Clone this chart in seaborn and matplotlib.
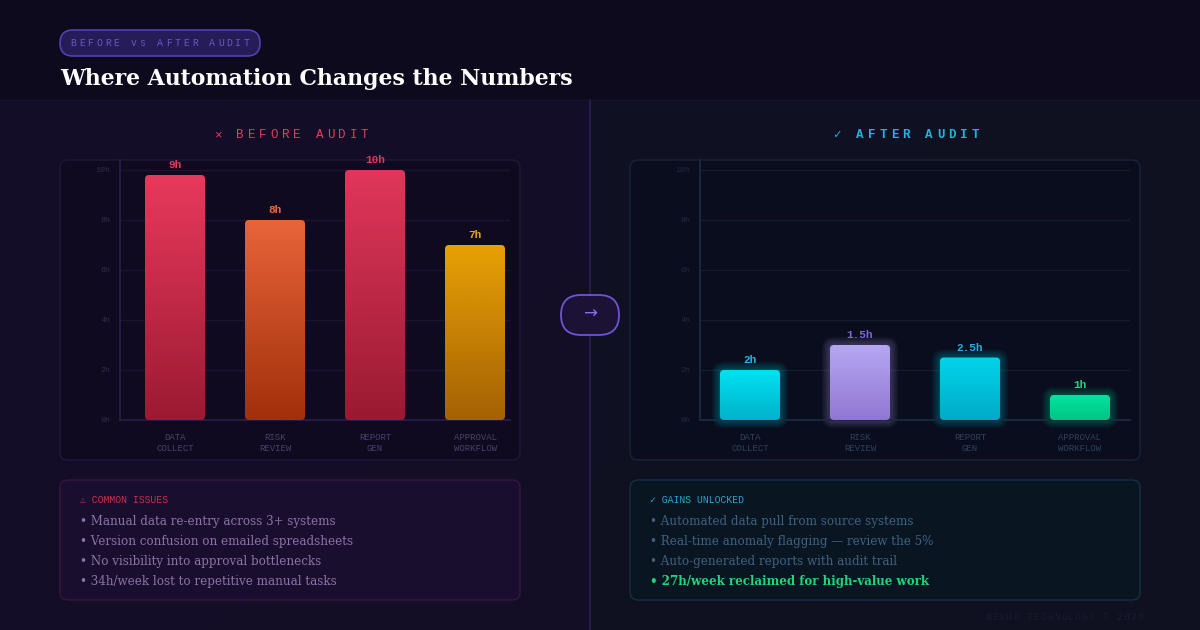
import numpy as np
import matplotlib
matplotlib.use('Agg')
import matplotlib.pyplot as plt
from matplotlib.patches import FancyBboxPatch
from matplotlib.colors import to_rgb
import seaborn as sns


### DATA ###
categories = ['DATA\nCOLLECT', 'RISK\nREVIEW', 'REPORT\nGEN', 'APPROVAL\nWORKFLOW']
before_hours = [9.8, 8, 10, 7]
before_labels = ['9h', '8h', '10h', '7h']
after_hours = [2, 3, 2.5, 1]
after_labels = ['2h', '1.5h', '2.5h', '1h']
y_ticks = [0, 2, 4, 6, 8, 10]
y_tick_labels = ['0h', '2h', '4h', '6h', '8h', '10h']

issues = ['Manual data re-entry across 3+ systems',
          'Version confusion on emailed spreadsheets',
          'No visibility into approval bottlenecks',
          '34h/week lost to repetitive manual tasks']
gains = ['Automated data pull from source systems',
         'Real-time anomaly flagging \u2014 review the 5%',
         'Auto-generated reports with audit trail',
         '27h/week reclaimed for high-value work']

before_top = ['#e8395b', '#e8643a', '#e0375a', '#e8a004']
before_bottom = ['#9c1a32', '#a2300a', '#9a1a32', '#a46204']
after_top = ['#00e2f2', '#b6a6f2', '#00d4ea', '#00e4a2']
after_bottom = ['#00b2ca', '#9078d2', '#00aac8', '#00c482']
before_label_colors = ['#e23a5c', '#e8693c', '#e23a5c', '#eaa010']
after_label_colors = ['#22b4e4', '#7a68e0', '#22aee4', '#22d486']

W, H = 1200, 630
MONO = ['Liberation Mono', 'DejaVu Sans Mono', 'DejaVu Sans']
SERIF = ['DejaVu Serif']

sns.set_theme(style='dark')
plt.rcParams['font.family'] = ['DejaVu Serif', 'DejaVu Sans']

fig = plt.figure(figsize=(12, 6.3), dpi=100)

# full-figure axes in pixel coords for the decoration
bg = fig.add_axes([0, 0, 1, 1], zorder=0)
bg.set_xlim(0, W)
bg.set_ylim(H, 0)
bg.axis('off')

# background: header band, purple left panel, bluish right panel
yy, xx = np.mgrid[0:H, 0:W]
img = np.zeros((H, W, 3))
left_c = np.array(to_rgb('#150d29'))
right_c = np.array(to_rgb('#0f1124'))
head_c = np.array(to_rgb('#0e0a1e'))
diag = ((xx + yy) / (W + H))[..., None]
img[:] = np.where((xx < 590)[..., None], left_c, right_c)
img = img * (1.0 - 0.18 * diag) + 0.012 * diag
img[yy < 100] = head_c
bg.imshow(img, extent=(0, W, H, 0), aspect='auto', zorder=0)
bg.plot([0, W], [100, 100], color='#171230', lw=1, zorder=1)
bg.plot([590, 590], [100, H], color='#251b48', lw=1.6, zorder=1)


def box(x, y, w, h, fc, ec, r=8, lw=1.0):
	bg.add_patch(FancyBboxPatch((x, y), w, h, boxstyle=f'round,pad=0,rounding_size={r}',
	                            fc=fc, ec=ec, lw=lw, zorder=2))


def spaced(cx, y, s, step, **kw):
	'''letter-spaced text centred on cx'''
	start = cx - (len(s) - 1) * step / 2
	for i, c in enumerate(s):
		bg.text(start + i * step, y, c, ha='center', va='center', zorder=5, **kw)


# header
box(60, 30, 200, 26, '#261c58', '#5440b0', r=13, lw=1.2)
spaced(160, 43.5, 'BEFORE vs AFTER AUDIT', 8.7, color='#6a58c0', fontsize=7, family=MONO)
bg.text(60, 85, 'Where Automation Changes the Numbers', color='white', fontsize=15.8,
        weight='bold', family=SERIF, va='baseline', zorder=5)

# panel titles
spaced(291, 135, '\u00d7 BEFORE AUDIT', 11.3, color='#e0405c', fontsize=9, family=MONO)
spaced(906, 135, '\u2713 AFTER AUDIT', 11.5, color='#22b2dc', fontsize=9, family=MONO, weight='bold')

# chart frames
box(60, 160, 460, 300, '#100a20', '#22173b')
box(630, 160, 510, 300, '#0a0d1d', '#16253a')

# arrow pill
box(561, 295, 58, 40, '#1b1236', '#6f55d6', r=20, lw=1.3)
bg.text(590, 314, '\u2192', color='#8a6cf0', fontsize=12, ha='center', va='center',
        family=['DejaVu Sans'], zorder=5)

# bottom note boxes
box(60, 480, 460, 120, '#1a0e2e', '#3a1742')
box(630, 480, 510, 120, '#0a1522', '#153044')
bg.text(80, 500, '\u26a0 COMMON ISSUES', color='#c8304e', fontsize=7, family=MONO, va='center', zorder=5)
bg.text(650, 500, '\u2713 GAINS UNLOCKED', color='#22a8cc', fontsize=7, family=MONO, va='center', zorder=5)
for i, t in enumerate(issues):
	bg.text(80, 521 + i * 20, '\u2022 ' + t, color='#8a72a8', fontsize=8.6, family=SERIF,
	        va='center', zorder=5)
for i, t in enumerate(gains):
	last = i == len(gains) - 1
	bg.text(650, 521 + i * 20, '\u2022 ' + t, color='#1fd67d' if last else '#3c6280',
	        fontsize=8.6, family=SERIF, va='center', weight='bold' if last else 'normal', zorder=5)

# footer
spaced(1064, 617, 'NEXUR TECHNOLOGY \u00a9 2026', 6.9, color='#1a1b31', fontsize=7, family=MONO)


def px_axes(x0, y0, x1, y1):
	return fig.add_axes([x0 / W, 1 - y1 / H, (x1 - x0) / W, (y1 - y0) / H], zorder=3)


def gradient(c_top, c_bot):
	t = np.linspace(0, 1, 128)[:, None]
	a, b = np.array(to_rgb(c_top)), np.array(to_rgb(c_bot))
	return (a * (1 - t) + b * t)[:, None, :]


def draw_chart(ax, hours, labels, tops, bottoms, label_colors, xlim, width, px_per_x,
               grid_c, spine_c, tick_c, cat_c, glow):
	sns.barplot(x=categories, y=hours, ax=ax, width=width, color='gray')
	ax.set_facecolor('none')
	ax.set_xlim(xlim)
	ax.set_ylim(0, 10.4)
	px_per_y = 25.0
	rs = 4 / px_per_x
	asp = (4 / px_per_y) / rs
	for i, p in enumerate(list(ax.patches)):
		x0, y0, w, h = p.get_x(), p.get_y(), p.get_width(), p.get_height()
		p.set_visible(False)
		if glow:
			# soft halo: stacked faint rounded boxes
			for k in range(1, 13):
				pad = k * 0.7 / px_per_x
				ax.add_patch(FancyBboxPatch((x0, y0), w, h, mutation_aspect=asp,
				                            boxstyle=f'round,pad={pad},rounding_size={rs + pad}',
				                            fc=tops[i], ec='none', alpha=0.028, zorder=2, clip_on=False))
		clip = FancyBboxPatch((x0, y0), w, h, boxstyle=f'round,pad=0,rounding_size={rs}',
		                      mutation_aspect=asp, fc='none', ec='none', transform=ax.transData)
		ax.add_patch(clip)
		im = ax.imshow(gradient(tops[i], bottoms[i]), extent=(x0, x0 + w, y0, y0 + h),
		               aspect='auto', origin='upper', zorder=3)
		im.set_clip_path(clip)
		ax.annotate(labels[i], (x0 + w / 2, h), xytext=(0, 3.5), textcoords='offset points',
		            ha='center', va='bottom', color=label_colors[i], fontsize=8,
		            weight='bold', family=MONO, zorder=4)
	ax.set_xlim(xlim)
	ax.set_ylim(0, 10.4)
	ax.set_yticks(y_ticks)
	ax.set_yticklabels(y_tick_labels)
	ax.set_xlabel('')
	ax.set_ylabel('')
	ax.yaxis.grid(True, color=grid_c, lw=1)
	ax.xaxis.grid(False)
	ax.set_axisbelow(True)
	for s in ['top', 'right']:
		ax.spines[s].set_visible(False)
	for s in ['left', 'bottom']:
		ax.spines[s].set_visible(True)
		ax.spines[s].set_color(spine_c)
		ax.spines[s].set_linewidth(1.3)
	ax.tick_params(axis='y', length=0, pad=7, labelsize=6, labelcolor=tick_c)
	ax.tick_params(axis='x', length=0, pad=9, labelsize=6.5, labelcolor=cat_c)
	for lbl in ax.get_yticklabels() + ax.get_xticklabels():
		lbl.set_fontfamily(MONO)
	for lbl in ax.get_xticklabels():
		lbl.set_linespacing(1.4)


ax1 = px_axes(120, 160, 510, 420)
draw_chart(ax1, before_hours, before_labels, before_top, before_bottom, before_label_colors,
           (-0.55, 3.35), 0.6, 100.0, '#1d1433', '#2a1c46', '#35284c', '#4c3f6c', False)

ax2 = px_axes(700, 160, 1130, 420)
draw_chart(ax2, after_hours, after_labels, after_top, after_bottom, after_label_colors,
           (-50 / 110, 380 / 110), 60 / 110, 110.0, '#121d30', '#1a2a40', '#1d2c40', '#2c435a', True)

fig.savefig('out.png', dpi=100, facecolor=fig.get_facecolor())
